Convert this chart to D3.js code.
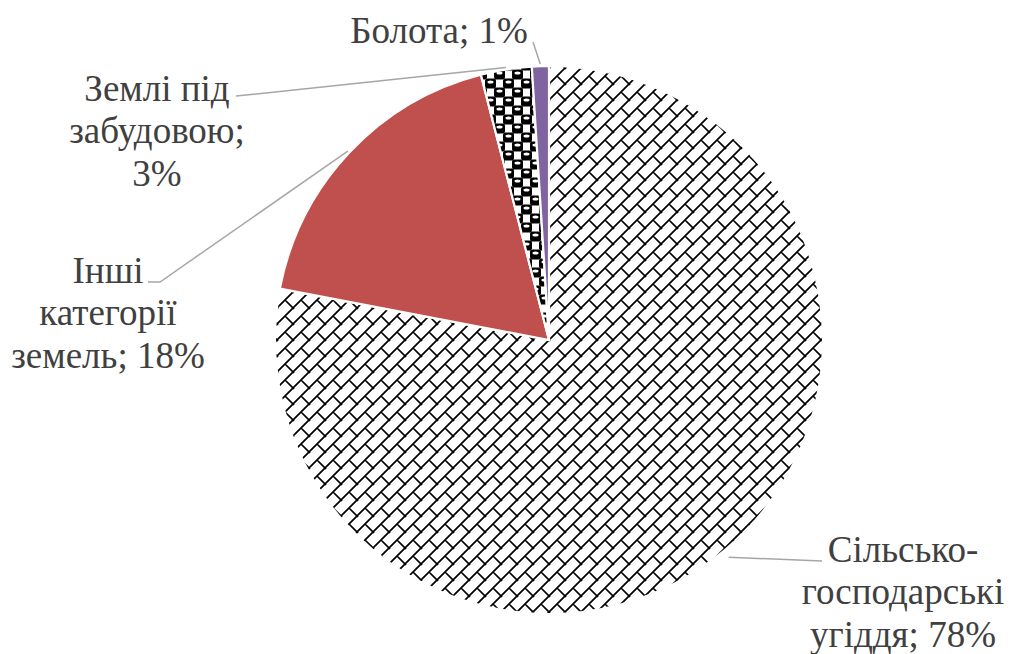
<!DOCTYPE html>
<html><head><meta charset="utf-8">
<script src="https://cdn.jsdelivr.net/npm/d3@7"></script>
<style>
html,body{margin:0;padding:0;background:#fff;}
svg{display:block;}
</style></head>
<body>
<svg id="chart" width="1010" height="654"></svg>
<script>
// ---- data ----
const categories = ["Сільсько-господарські угіддя", "Інші категорії земель", "Землі під забудовою", "Болота"];
const values = [78, 18, 3, 1];
const labelLines = [
  ["Сільсько-", "господарські", "угіддя; 78%"],
  ["Інші", "категорії", "земель; 18%"],
  ["Землі під", "забудовою;", "3%"],
  ["Болота; 1%"]
];

// ---- layout / style ----
const W = 1010, H = 654;
const cx = 549, cy = 340, R = 274;
const fills = ["url(#brick)", "#c0504d", "url(#sphere)", "#8064a2"];
const labelLayout = [
  {x: 903, y: 562, leader: [[822, 561]], leaderR: 282},
  {x: 108, y: 283, leader: [[148, 282], [160, 282]], leaderR: 276},
  {x: 157, y: 101, leader: [[236, 96], [246, 95]], leaderR: 276},
  {x: 439, y: 43, leader: [[533, 42]], leaderR: 276}
];
const lineH = 42.3;
const FONT = "'Liberation Serif','DejaVu Serif','Times New Roman',serif";

const svg = d3.select("#chart");
const defs = svg.append("defs");

// diagonal brick pattern
const T = 16;
const brick = defs.append("pattern").attr("id", "brick")
  .attr("patternUnits", "userSpaceOnUse").attr("width", T).attr("height", T);
brick.append("rect").attr("width", T).attr("height", T).attr("fill", "#fff");
brick.append("path")
  .attr("d", `M${T+1},-1L-1,${T+1}M${T/2},${T/2}L${T+1},${T+1}M-1,-1L1,1`)
  .attr("stroke", "#000").attr("stroke-width", 1.7).attr("fill", "none");

// sphere / checker pattern
const S = 18, c = S / 2;
const sph = defs.append("pattern").attr("id", "sphere")
  .attr("patternUnits", "userSpaceOnUse").attr("width", S).attr("height", S);
sph.append("rect").attr("width", S).attr("height", S).attr("fill", "#fff");
[[0, 0], [c, c], [-c, c], [c, -c], [S, 0], [0, S], [S, S]].forEach(([px, py]) => {
  sph.append("rect").attr("x", px - 1).attr("y", py - 0.5).attr("width", c + 2).attr("height", c + 1)
    .attr("rx", 2.5).attr("fill", "#000");
  sph.append("ellipse").attr("cx", px + c / 2).attr("cy", py + 3)
    .attr("rx", 3).attr("ry", 1.5).attr("fill", "#fff");
});

const pie = d3.pie().sort(null).value(d => d)(values);
const arc = d3.arc().innerRadius(0).outerRadius(R);

const g = svg.append("g").attr("transform", `translate(${cx},${cy})`);
g.selectAll("path.slice").data(pie).join("path")
  .attr("class", "slice")
  .attr("d", arc)
  .attr("fill", (d, i) => fills[i])
  .attr("stroke", "#fff").attr("stroke-width", 2.2).attr("stroke-linejoin", "round");

// leader lines
pie.forEach((d, i) => {
  const L = labelLayout[i];
  const a = (d.startAngle + d.endAngle) / 2;
  const sx = cx + Math.sin(a) * L.leaderR, sy = cy - Math.cos(a) * L.leaderR;
  const pts = L.leader.concat([[sx, sy]]);
  svg.append("path").attr("d", d3.line()(pts))
    .attr("fill", "none").attr("stroke", "#a6a6a6").attr("stroke-width", 1.5);
});

// labels
labelLines.forEach((lines, i) => {
  const L = labelLayout[i];
  const t = svg.append("text")
    .attr("text-anchor", "middle")
    .attr("font-family", FONT)
    .attr("font-size", 37).attr("fill", "#404040");
  lines.forEach((s, k) => {
    t.append("tspan").attr("x", L.x).attr("y", L.y + k * lineH).text(s);
  });
});
</script>
</body></html>
